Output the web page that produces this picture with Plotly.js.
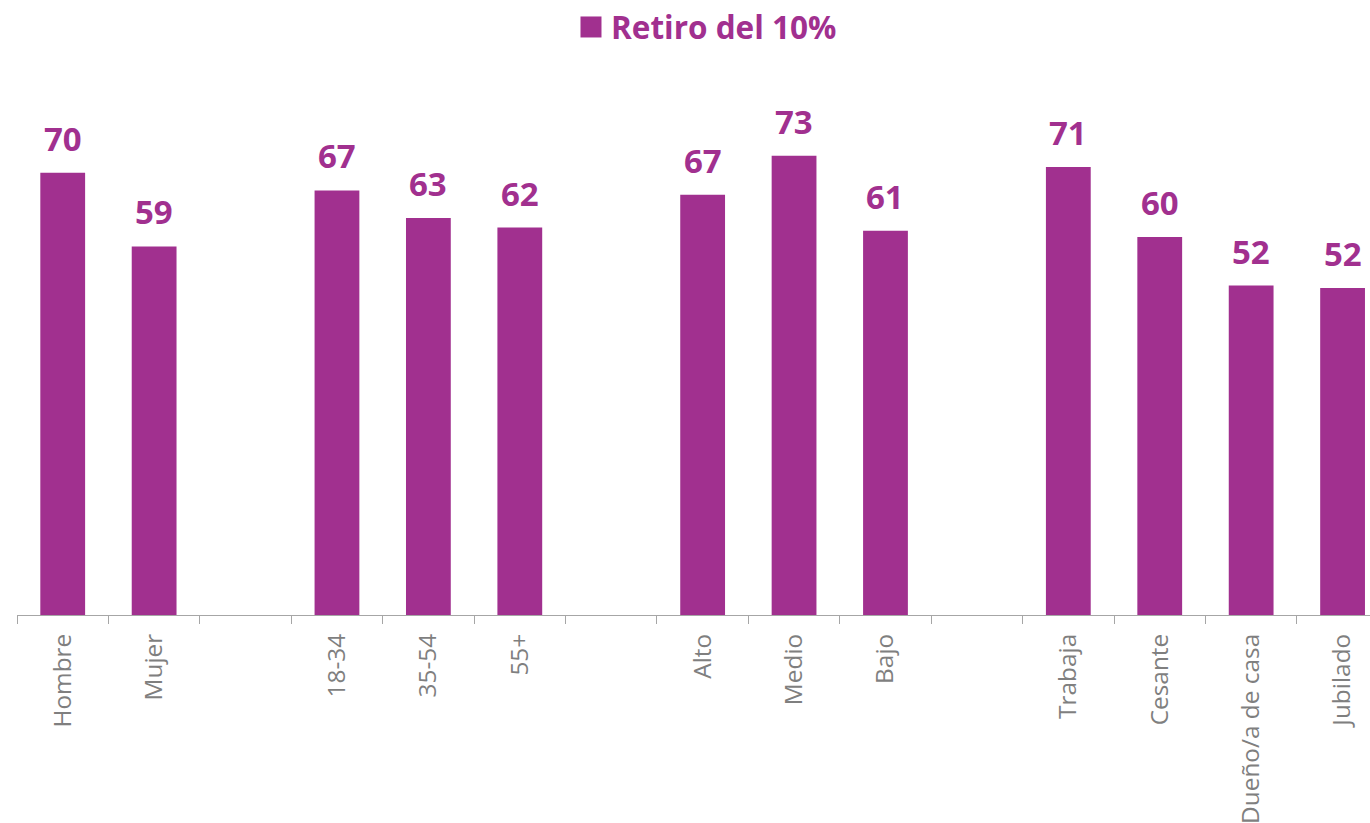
<!DOCTYPE html>
<html>
<head>
<meta charset="utf-8">
<script src="https://cdn.plot.ly/plotly-3.0.1.min.js"></script>
<style>html,body{margin:0;padding:0;background:#fff;}#chart{width:1370px;height:823px;}</style>
</head>
<body>
<div id="chart"></div>
<script>
var categories = ["Hombre", "Mujer", "\u200b", "18-34", "35-54", "55+", "\u200b\u200b", "Alto", "Medio", "Bajo", "\u200b\u200b\u200b", "Trabaja", "Cesante", "Dueño/a de casa", "Jubilado"];
var values = [70.2, 58.5, null, 67.4, 63.0, 61.5, null, 66.7, 72.9, 61.0, null, 71.1, 60.0, 52.3, 51.9];
var valueLabels = ["70", "59", "", "67", "63", "62", "", "67", "73", "61", "", "71", "60", "52", "52"];
var seriesName = "Retiro del 10%";
var purple = "#A1308F";

var labelAnnotations = [];
categories.forEach(function (c, i) {
  if (values[i] !== null) {
    labelAnnotations.push({
      x: c, y: values[i], xref: "x", yref: "y",
      text: "<b>" + valueLabels[i] + "</b>", showarrow: false,
      yanchor: "bottom", yshift: 10,
      font: {family: "Open Sans", size: 33, color: purple}
    });
  }
});

var traces = [
  {
    type: "bar", x: categories, y: values, name: seriesName,
    marker: {color: purple}, showlegend: false, hoverinfo: "x+y"
  },
  {
    type: "scatter", mode: "markers", x: [categories[0]], y: [null], name: seriesName,
    marker: {symbol: "square", size: 16, color: purple}, showlegend: true
  }
];

var layout = {
  width: 1370, height: 823,
  margin: {l: 17, r: 0, t: 106, b: 208},
  paper_bgcolor: "#fff", plot_bgcolor: "#fff",
  bargap: 0.51,
  font: {family: "Open Sans", color: "#7F7F7F"},
  showlegend: true,
  legend: {
    orientation: "h", x: 0.5096, xanchor: "center", y: 1.167, yanchor: "middle",
    font: {family: "Open Sans", size: 31.5, color: purple, weight: "bold"},
    itemwidth: 30
  },
  xaxis: {
    type: "category", range: [-0.5, 14.3], tickson: "boundaries",
    ticks: "outside", ticklen: 8, tickcolor: "#A6A6A6", tickwidth: 1,
    showline: true, linecolor: "#A6A6A6", linewidth: 1,
    tickangle: -90, ticklabelstandoff: 8,
    tickfont: {family: "Open Sans", size: 24.4, color: "#7F7F7F"},
    showgrid: false, zeroline: false, fixedrange: true
  },
  yaxis: {
    range: [0, 80], visible: false, showgrid: false, zeroline: false, fixedrange: true
  },
  annotations: labelAnnotations
};

Plotly.newPlot("chart", traces, layout, {displayModeBar: false, staticPlot: true}).then(function (gd) {
  // enlarge the legend swatch to match the reference's 21px square
  gd.querySelectorAll(".legend .legendpoints path.scatterpts").forEach(function (p) {
    p.setAttribute("d", "M10.5,10.5H-10.5V-10.5H10.5Z");
  });
});
</script>
</body>
</html>
